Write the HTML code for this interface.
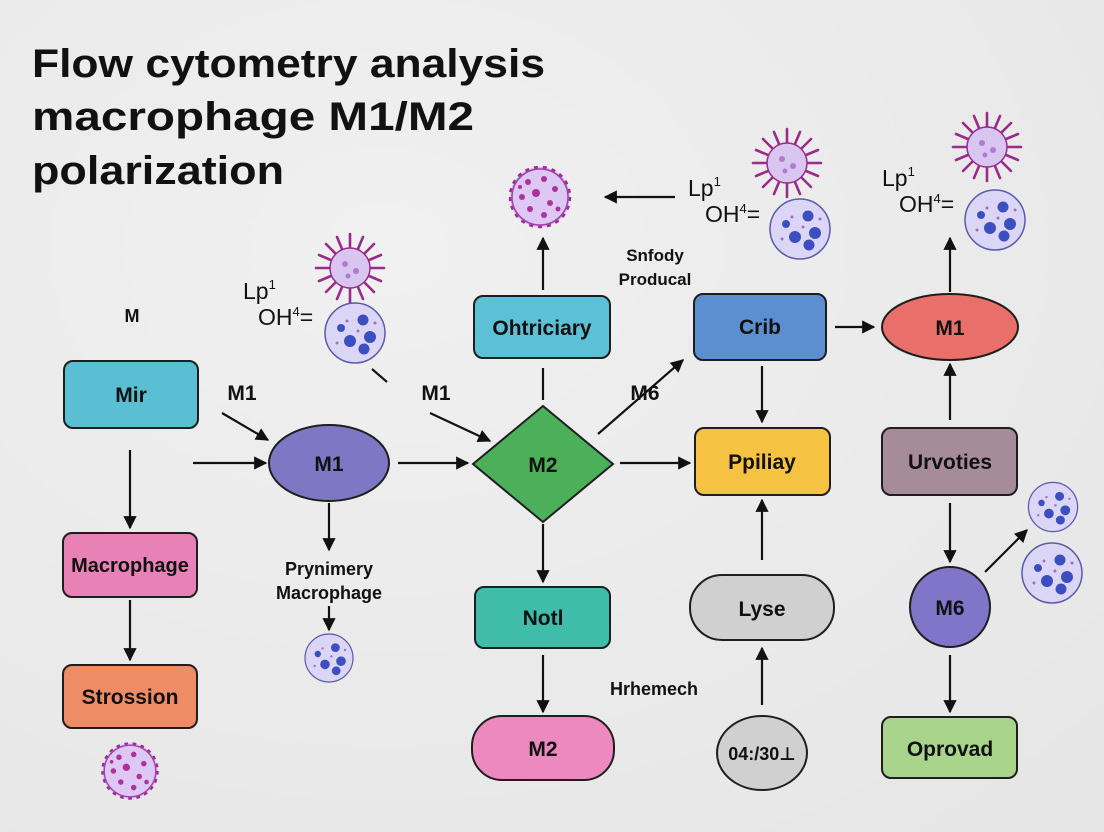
<!DOCTYPE html>
<html><head><meta charset="utf-8"><style>
html,body{margin:0;padding:0;background:#ebebeb;}
svg{display:block;}
text{font-family:"Liberation Sans","DejaVu Sans",sans-serif;}
</style></head><body>
<svg width="1104" height="832" viewBox="0 0 1104 832" xmlns="http://www.w3.org/2000/svg">
<defs>
<radialGradient id="bg" cx="0.35" cy="0.3" r="0.9"><stop offset="0" stop-color="#f0f0f0"/><stop offset="1" stop-color="#e6e6e6"/></radialGradient>
<marker id="ah" viewBox="0 0 10 10" refX="9" refY="5" markerWidth="6" markerHeight="6" orient="auto"><path d="M0,0L10,5L0,10z" fill="#111"/></marker>
<g id="virus">
 <g stroke="#9a2a8c" stroke-width="2.6" stroke-linecap="round">
  <line x1="0" y1="0" x2="0" y2="-34"/><line x1="0" y1="0" x2="0" y2="34"/><line x1="0" y1="0" x2="34" y2="0"/><line x1="0" y1="0" x2="-34" y2="0"/>
  <line x1="0" y1="0" x2="24" y2="24"/><line x1="0" y1="0" x2="-24" y2="24"/><line x1="0" y1="0" x2="24" y2="-24"/><line x1="0" y1="0" x2="-24" y2="-24"/>
  <line x1="0" y1="0" x2="13" y2="31"/><line x1="0" y1="0" x2="-13" y2="31"/><line x1="0" y1="0" x2="13" y2="-31"/><line x1="0" y1="0" x2="-13" y2="-31"/>
  <line x1="0" y1="0" x2="31" y2="13"/><line x1="0" y1="0" x2="-31" y2="13"/><line x1="0" y1="0" x2="31" y2="-13"/><line x1="0" y1="0" x2="-31" y2="-13"/>
 </g>
 <circle r="20" fill="#d9c6f0" stroke="#9a2a8c" stroke-width="1.5"/>
 <circle cx="-5" cy="-4" r="3" fill="#b07ad0"/><circle cx="6" cy="3" r="3" fill="#b07ad0"/><circle cx="-2" cy="8" r="2.5" fill="#b07ad0"/>
</g>
<g id="cell">
 <circle r="30" fill="#dcd6f6" stroke="#5a5aa8" stroke-width="1.5"/>
 <circle cx="8" cy="-13" r="5.5" fill="#3d4fc0"/><circle cx="-14" cy="-5" r="4" fill="#3d4fc0"/><circle cx="-5" cy="8" r="6" fill="#3d4fc0"/><circle cx="15" cy="4" r="6" fill="#3d4fc0"/><circle cx="9" cy="16" r="5.5" fill="#3d4fc0"/>
 <circle cx="-8" cy="-12" r="1.5" fill="#a070c0"/><circle cx="-18" cy="10" r="1.5" fill="#a070c0"/><circle cx="3" cy="-2" r="1.5" fill="#a070c0"/><circle cx="20" cy="-10" r="1.5" fill="#a070c0"/>
</g>
<g id="spore">
 <circle r="30" fill="#d8bff0" stroke="#a0289a" stroke-width="2.5" stroke-dasharray="4 5"/>
 <circle r="28" fill="#dcc8f2" stroke="#a040a8" stroke-width="1.5"/>
 <g fill="#b0309c"><circle cx="-12" cy="-15" r="3"/><circle cx="4" cy="-18" r="3"/><circle cx="15" cy="-8" r="3"/><circle cx="-18" cy="0" r="3"/><circle cx="-4" cy="-4" r="4"/><circle cx="10" cy="6" r="3"/><circle cx="-10" cy="12" r="3"/><circle cx="4" cy="18" r="3"/><circle cx="18" cy="12" r="2.5"/><circle cx="-20" cy="-10" r="2"/></g>
</g>
</defs>
<rect width="1104" height="832" fill="url(#bg)"/>

<g font-weight="bold" fill="#111" font-size="40">
<text x="32" y="77" textLength="513" lengthAdjust="spacingAndGlyphs">Flow cytometry analysis</text>
<text x="32" y="130" textLength="442" lengthAdjust="spacingAndGlyphs">macrophage M1/M2</text>
<text x="32" y="184" textLength="252" lengthAdjust="spacingAndGlyphs">polarization</text>
</g>

<g stroke="#111" stroke-width="2.2" fill="none" marker-end="url(#ah)">
<line x1="130" y1="450" x2="130" y2="528"/>
<line x1="130" y1="600" x2="130" y2="660"/>
<line x1="193" y1="463" x2="266" y2="463"/>
<line x1="222" y1="413" x2="268" y2="440"/>
<line x1="430" y1="413" x2="490" y2="441"/>
<line x1="398" y1="463" x2="468" y2="463"/>
<line x1="543" y1="290" x2="543" y2="238"/>
<line x1="675" y1="197" x2="605" y2="197"/>
<line x1="598" y1="434" x2="683" y2="360"/>
<line x1="835" y1="327" x2="874" y2="327"/>
<line x1="950" y1="292" x2="950" y2="238"/>
<line x1="762" y1="366" x2="762" y2="422"/>
<line x1="620" y1="463" x2="690" y2="463"/>
<line x1="762" y1="560" x2="762" y2="500"/>
<line x1="762" y1="705" x2="762" y2="648"/>
<line x1="543" y1="524" x2="543" y2="582"/>
<line x1="543" y1="655" x2="543" y2="712"/>
<line x1="329" y1="503" x2="329" y2="550"/>
<line x1="329" y1="606" x2="329" y2="630"/>
<line x1="950" y1="420" x2="950" y2="364"/>
<line x1="950" y1="503" x2="950" y2="562"/>
<line x1="985" y1="572" x2="1027" y2="530"/>
<line x1="950" y1="655" x2="950" y2="712"/>
</g>
<g stroke="#111" stroke-width="2.2">
<line x1="543" y1="368" x2="543" y2="400"/>
<line x1="372" y1="369" x2="387" y2="382"/>
</g>

<g stroke="#1e1e1e" stroke-width="2">
<rect x="64" y="361" width="134" height="67" rx="9" fill="#5bbfd4"/>
<rect x="63" y="533" width="134" height="64" rx="9" fill="#e882b6"/>
<rect x="63" y="665" width="134" height="63" rx="9" fill="#ee8c66"/>
<ellipse cx="329" cy="463" rx="60" ry="38" fill="#7e78c4"/>
<polygon points="543,406 613,464 543,522 473,464" fill="#4caf5a"/>
<rect x="474" y="296" width="136" height="62" rx="9" fill="#5cc0d6"/>
<rect x="694" y="294" width="132" height="66" rx="9" fill="#5b8fd0"/>
<ellipse cx="950" cy="327" rx="68" ry="33" fill="#e86f6a"/>
<rect x="695" y="428" width="135" height="67" rx="9" fill="#f5c242"/>
<rect x="690" y="575" width="144" height="65" rx="32" fill="#d0d0d0"/>
<ellipse cx="762" cy="753" rx="45" ry="37" fill="#d0d0d0"/>
<rect x="475" y="587" width="135" height="61" rx="9" fill="#40bcaa"/>
<rect x="472" y="716" width="142" height="64" rx="30" fill="#ec8ac0"/>
<rect x="882" y="428" width="135" height="67" rx="9" fill="#a68b99"/>
<circle cx="950" cy="607" r="40" fill="#8075c8"/>
<rect x="882" y="717" width="135" height="61" rx="9" fill="#a9d48b"/>
</g>

<use href="#spore" transform="translate(130,771) scale(0.92)"/>
<use href="#spore" x="540" y="197"/>
<use href="#virus" x="350" y="268"/>
<use href="#cell" x="355" y="333"/>
<use href="#virus" x="787" y="163"/>
<use href="#cell" x="800" y="229"/>
<use href="#virus" x="987" y="147"/>
<use href="#cell" x="995" y="220"/>
<use href="#cell" transform="translate(329,658) scale(0.8)"/>
<use href="#cell" transform="translate(1053,507) scale(0.82)"/>
<use href="#cell" x="1052" y="573"/>

<g font-weight="bold" fill="#111" font-size="21" text-anchor="middle">
<text x="131" y="402">Mir</text>
<text x="130" y="572" font-size="20">Macrophage</text>
<text x="130" y="704">Strossion</text>
<text x="329" y="471">M1</text>
<text x="543" y="472">M2</text>
<text x="542" y="335">Ohtriciary</text>
<text x="760" y="334">Crib</text>
<text x="950" y="335">M1</text>
<text x="762" y="469">Ppiliay</text>
<text x="762" y="616">Lyse</text>
<text x="762" y="760" font-size="18">04:/30⊥</text>
<text x="543" y="625">Notl</text>
<text x="543" y="756">M2</text>
<text x="950" y="469">Urvoties</text>
<text x="950" y="615">M6</text>
<text x="950" y="756">Oprovad</text>
<text x="132" y="322" font-size="18">M</text>
<text x="242" y="400">M1</text>
<text x="436" y="400">M1</text>
<text x="645" y="400">M6</text>
<text x="329" y="575" font-size="18">Prynimery</text>
<text x="329" y="599" font-size="18">Macrophage</text>
<text x="655" y="261" font-size="17">Snfody</text>
<text x="655" y="285" font-size="17">Producal</text>
<text x="654" y="695" font-size="18">Hrhemech</text>
</g>

<g fill="#111" font-size="23">
<text x="243" y="299">Lp<tspan font-size="13" dy="-10">1</tspan></text>
<text x="258" y="325">OH<tspan font-size="13" dy="-9">4</tspan><tspan dy="9">=</tspan></text>
<text x="688" y="196">Lp<tspan font-size="13" dy="-10">1</tspan></text>
<text x="705" y="222">OH<tspan font-size="13" dy="-9">4</tspan><tspan dy="9">=</tspan></text>
<text x="882" y="186">Lp<tspan font-size="13" dy="-10">1</tspan></text>
<text x="899" y="212">OH<tspan font-size="13" dy="-9">4</tspan><tspan dy="9">=</tspan></text>
</g>
</svg>
</body></html>
